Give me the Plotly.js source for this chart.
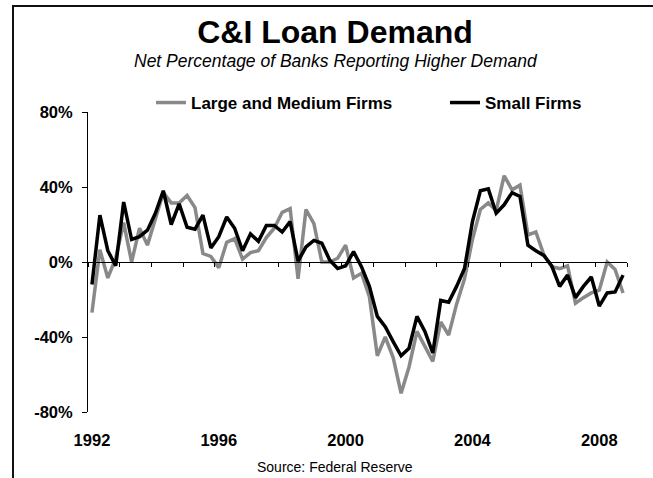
<!DOCTYPE html>
<html>
<head>
<meta charset="utf-8">
<script src="https://cdn.plot.ly/plotly-3.0.1.min.js"></script>
<style>
html,body{margin:0;padding:0;background:#fff;}
#wrap{position:relative;width:653px;height:478px;overflow:hidden;background:#fff;}
#chart{position:absolute;left:0;top:0;width:653px;height:478px;}
#frame{position:absolute;left:12px;top:5px;width:660px;height:490px;border-top:2px solid #111;border-left:2px solid #111;pointer-events:none;}
</style>
</head>
<body>
<div id="wrap"><div id="chart"></div><div id="frame"></div></div>
<script>
// Quarterly data, 1992 Q1 through 2008 Q4
const startYear = 1992;
const largeMediumFirms = [
  -27, 6.5, -8.5, 2, 21, 0, 18, 9,
  23, 37, 31.5, 31.5, 35.5, 29, 4.5, 3,
  -3, 10.5, 12.5, 1.5, 5, 6, 13, 18,
  26.5, 28.5, -9, 28, 20.5, 0, 0, 2,
  9, -8.5, -6, -18.5, -50, -40, -51, -70,
  -56, -37, -45, -53, -32, -39, -22.5, -9,
  12, 28, 31.5, 27.5, 46, 38.5, 41, 14.5,
  16, 4, -2.5, -3.5, -2, -22, -19, -16.5,
  -15, 0, -4, -16.5
];
const smallFirms = [
  -12, 25, 6, -2, 32, 12, 13.5, 17,
  26, 38, 20, 31, 18.5, 17.5, 25, 7.5,
  13.5, 24, 18, 6, 15, 11, 19.5, 19.5,
  16, 21.5, 0.5, 8, 11.5, 10, 1, -3.5,
  -2, 5.5, -2.5, -13, -29, -34.5, -42.5, -50,
  -46, -29, -37, -48.5, -20.5, -21.5, -13, -3.5,
  21.5, 38, 39, 26, 30.5, 37, 35, 9,
  6, 3.5, -2, -13, -7, -19, -13, -8,
  -23.5, -16.5, -16, -7
];
const seriesNames = ['Large and Medium Firms', 'Small Firms'];
const yTickVals = [-80, -40, 0, 40, 80];
const yTickText = ['-80%', '-40%', '0%', '40%', '80%'];
const xLabelVals = [1992, 1996, 2000, 2004, 2008];
const xLabelText = ['1992', '1996', '2000', '2004', '2008'];

const quarterX = smallFirms.map((_, i) => startYear + i / 4);
const xMin = startYear - 0.125;
const xMax = startYear + smallFirms.length / 4 - 0.125;
const yearTicks = [];
for (let k = 0; xMin + k <= xMax + 1e-9; k++) yearTicks.push(xMin + k);

const FONT = 'Liberation Sans, Arial, Helvetica, sans-serif';

const traces = [
  {
    x: quarterX, y: largeMediumFirms, name: seriesNames[0],
    type: 'scatter', mode: 'lines', xaxis: 'x', yaxis: 'y', legend: 'legend',
    line: {color: '#898989', width: 3.5}
  },
  {
    x: quarterX, y: smallFirms, name: seriesNames[1],
    type: 'scatter', mode: 'lines', xaxis: 'x2', yaxis: 'y', legend: 'legend2',
    line: {color: '#000000', width: 3.5}
  }
];

const plotL = 88, plotR = 627, plotT = 112, plotB = 412;
const pw = plotR - plotL, ph = plotB - plotT;

const legendFont = {family: FONT, size: 17, weight: 'bold', color: '#000'};
const legendY = 1 + (plotT - 103) / ph;

const layout = {
  width: 653, height: 478,
  margin: {l: plotL, r: 653 - plotR, t: plotT, b: 478 - plotB, pad: 0},
  paper_bgcolor: 'rgba(0,0,0,0)',
  plot_bgcolor: 'rgba(0,0,0,0)',
  font: {family: FONT, color: '#000'},
  title: {
    text: 'C&I Loan Demand',
    font: {family: FONT, size: 32, weight: 'bold', color: '#000'},
    xref: 'container', x: 335 / 653, xanchor: 'center',
    yref: 'container', y: 1 - 32 / 478, yanchor: 'middle'
  },
  showlegend: true,
  legend: {
    orientation: 'h',
    x: (151 - plotL) / pw, xanchor: 'left',
    y: legendY, yanchor: 'middle',
    font: legendFont, bgcolor: 'rgba(0,0,0,0)', borderwidth: 0
  },
  legend2: {
    orientation: 'h',
    x: (445 - plotL) / pw, xanchor: 'left',
    y: legendY, yanchor: 'middle',
    font: legendFont, bgcolor: 'rgba(0,0,0,0)', borderwidth: 0
  },
  xaxis: {
    range: [xMin, xMax],
    tickmode: 'array', tickvals: xLabelVals, ticktext: xLabelText,
    ticks: '', showline: false, showgrid: false, zeroline: false,
    tickfont: {family: FONT, size: 16.5, weight: 'bold', color: '#000'},
    ticklabelstandoff: 16, fixedrange: true
  },
  xaxis2: {
    overlaying: 'x', anchor: 'free', position: 0.5,
    range: [xMin, xMax],
    tickmode: 'array', tickvals: yearTicks,
    ticks: 'outside', ticklen: 4, tickwidth: 1, tickcolor: '#000',
    showticklabels: false, showline: true, linecolor: '#000', linewidth: 1,
    showgrid: false, zeroline: false, fixedrange: true
  },
  yaxis: {
    range: [-80, 80],
    tickmode: 'array', tickvals: yTickVals, ticktext: yTickText,
    ticks: 'outside', ticklen: 5, tickwidth: 1, tickcolor: '#000',
    showline: true, linecolor: '#000', linewidth: 1,
    showgrid: false, zeroline: false,
    tickfont: {family: FONT, size: 16.5, weight: 'bold', color: '#000'},
    ticklabelstandoff: 6, fixedrange: true
  },
  annotations: [
    {
      text: 'Net Percentage of Banks Reporting Higher Demand',
      xref: 'paper', yref: 'paper',
      x: (336 - plotL) / pw, y: 1 + (plotT - 61) / ph,
      xanchor: 'center', yanchor: 'middle', showarrow: false,
      font: {family: FONT, size: 17.5, style: 'italic', color: '#000'}
    },
    {
      text: 'Source: Federal Reserve',
      xref: 'paper', yref: 'paper',
      x: (335 - plotL) / pw, y: (plotB - 467) / ph,
      xanchor: 'center', yanchor: 'middle', showarrow: false,
      font: {family: FONT, size: 14, color: '#000'}
    }
  ]
};

Plotly.newPlot('chart', traces, layout, {displayModeBar: false, staticPlot: true});
</script>
</body>
</html>
